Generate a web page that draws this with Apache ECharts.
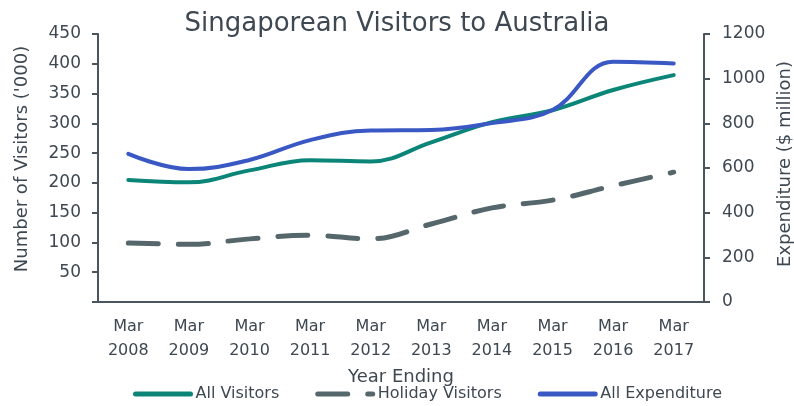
<!DOCTYPE html>
<html>
<head>
<meta charset="utf-8">
<script src="https://cdn.jsdelivr.net/npm/echarts@6/dist/echarts.min.js"></script>
<style>
  html, body { margin: 0; padding: 0; background: #fff; }
  #chart { width: 794px; height: 406px; }
</style>
</head>
<body>
<div id="chart"></div>
<script>
var years = ['Mar\n2008', 'Mar\n2009', 'Mar\n2010', 'Mar\n2011', 'Mar\n2012',
             'Mar\n2013', 'Mar\n2014', 'Mar\n2015', 'Mar\n2016', 'Mar\n2017'];
var allVisitors = [205, 201, 221, 238, 236, 268, 302, 322, 356, 381];
var holidayVisitors = [99, 97, 106, 112, 106, 131, 158, 171, 195, 218];
var allExpenditure = [663, 595, 636, 725, 768, 770, 801, 860, 1076, 1068];

var textColor = '#3e4852';
var axisColor = '#4b555d';
var font = 'DejaVu Sans';

var chart = echarts.init(document.getElementById('chart'));

option = {
    animation: false,
    textStyle: { fontFamily: font, color: textColor },
    title: {
        text: 'Singaporean Visitors to Australia',
        left: 'center',
        top: 6,
        textStyle: { fontFamily: font, fontSize: 26, fontWeight: 'normal', color: textColor }
    },
    legend: {
        left: 128,
        top: 381,
        itemWidth: 55,
        itemHeight: 14,
        itemGap: 36,
        itemStyle: { opacity: 0 },
        lineStyle: { width: 5 },
        textStyle: { fontFamily: font, fontSize: 16, color: textColor },
        data: ['All Visitors', 'Holiday Visitors', 'All Expenditure']
    },
    grid: {
        left: 98,
        right: 90,
        top: 34,
        bottom: 104,
        outerBoundsMode: 'none'
    },
    xAxis: {
        type: 'category',
        data: years,
        name: 'Year Ending',
        nameLocation: 'middle',
        nameGap: 55,
        nameTextStyle: { fontFamily: font, fontSize: 18, color: textColor },
        axisLine: { lineStyle: { color: axisColor, width: 2 } },
        axisTick: { show: false },
        axisLabel: {
            fontFamily: font,
            fontSize: 16,
            color: textColor,
            lineHeight: 24,
            margin: 13,
            interval: 0
        }
    },
    yAxis: [{
        type: 'value',
        min: 0,
        max: 450,
        interval: 50,
        name: "Number of Visitors ('000)",
        nameLocation: 'middle',
        nameGap: 67,
        nameRotate: 90,
        nameTextStyle: { fontFamily: font, fontSize: 18, color: textColor, padding: [0, 0, 0, 18] },
        splitLine: { show: false },
        axisLine: { show: true, lineStyle: { color: axisColor, width: 2 } },
        axisTick: { show: true, length: 6, lineStyle: { color: axisColor, width: 2 } },
        axisLabel: {
            fontFamily: font,
            fontSize: 17,
            color: textColor,
            margin: 17,
            formatter: function (v) { return v === 0 ? '' : String(v); }
        }
    }, {
        type: 'value',
        min: 0,
        max: 1200,
        interval: 200,
        position: 'right',
        name: 'Expenditure ($ million)',
        nameLocation: 'middle',
        nameGap: 72,
        nameRotate: 90,
        nameTextStyle: { fontFamily: font, fontSize: 18, color: textColor, padding: [0, 0, 0, 8] },
        splitLine: { show: false },
        axisLine: { show: true, lineStyle: { color: axisColor, width: 2 } },
        axisTick: { show: true, length: 6, lineStyle: { color: axisColor, width: 2 } },
        axisLabel: {
            fontFamily: font,
            fontSize: 17,
            color: textColor,
            margin: 18,
            formatter: function (v) { return String(v); }
        }
    }],
    series: [{
        name: 'All Visitors',
        type: 'line',
        smooth: 0.4,
        symbol: 'none',
        yAxisIndex: 0,
        itemStyle: { color: '#0b8577' },
        lineStyle: { color: '#0b8577', width: 4, cap: 'round' },
        data: allVisitors
    }, {
        name: 'Holiday Visitors',
        type: 'line',
        smooth: 0.4,
        symbol: 'none',
        yAxisIndex: 0,
        itemStyle: { color: '#56676c' },
        lineStyle: { color: '#56676c', width: 5, type: [30, 20], cap: 'round' },
        data: holidayVisitors
    }, {
        name: 'All Expenditure',
        type: 'line',
        smooth: 0.4,
        symbol: 'none',
        yAxisIndex: 1,
        itemStyle: { color: '#3a58c4' },
        lineStyle: { color: '#3a58c4', width: 4, cap: 'round' },
        data: allExpenditure
    }]
};

chart.setOption(option);
</script>
</body>
</html>
